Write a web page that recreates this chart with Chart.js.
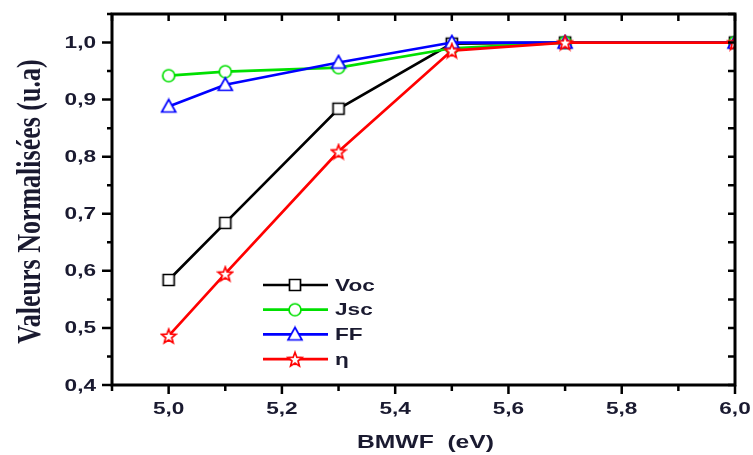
<!DOCTYPE html>
<html>
<head>
  <title>Valeurs normalisées vs BMWF</title>
  <script src="https://cdn.jsdelivr.net/npm/chart.js@4.4.1/dist/chart.umd.min.js"></script>
  <style>
    html, body {
      margin: 0;
      padding: 0;
      background: #ffffff;
    }
    .wrap {
      width: 753px;
      height: 455px;
    }
  </style>
</head>
<body>
  <div class="wrap">
    <canvas id="chart" width="753" height="455"></canvas>
  </div>

  <script>
    // work function of the back metal (eV)
    const bmwf = [5.0, 5.1, 5.3, 5.5, 5.7, 6.0];

    // normalised cell parameters
    const voc = [0.584, 0.684, 0.884, 0.998, 1.0, 1.0];
    const jsc = [0.942, 0.949, 0.956, 0.990, 1.0, 1.0];
    const ff = [0.888, 0.926, 0.965, 1.0, 1.0, 1.0];
    const eta = [0.486, 0.595, 0.809, 0.986, 1.0, 1.0];

    const seriesNames = ['Voc', 'Jsc', 'FF', 'η'];

    const xTicks = [5.0, 5.2, 5.4, 5.6, 5.8, 6.0];
    const yTicks = [0.4, 0.5, 0.6, 0.7, 0.8, 0.9, 1.0];

    const xTitle = 'BMWF  (eV)';
    const yTitle = 'Valeurs Normalisées (u.a)';

    const labelColor = '#1a1a30';
    const sans = '"Liberation Sans", Arial, sans-serif';
    const widen = 1.37;   // all lettering is drawn a bit wider than normal

    // open markers drawn once on small canvases, reused by points and legend
    function makeMarker(kind, color) {
      const size = 18;
      const c = document.createElement('canvas');
      c.width = size;
      c.height = size;
      const g = c.getContext('2d');
      g.strokeStyle = color;
      g.fillStyle = '#ffffff';
      g.lineWidth = 1.7;
      g.beginPath();
      const m = size / 2;
      if (kind === 'square') {
        g.rect(m - 5.5, m - 5.5, 11, 11);
      } else if (kind === 'circle') {
        g.arc(m, m, 6, 0, Math.PI * 2);
      } else if (kind === 'triangle') {
        g.moveTo(m, m - 7);
        g.lineTo(m + 7, m + 5.5);
        g.lineTo(m - 7, m + 5.5);
        g.closePath();
      } else {
        const ro = 7.5, ri = 3.2;
        for (let i = 0; i < 10; i++) {
          const r = i % 2 === 0 ? ro : ri;
          const a = -Math.PI / 2 + i * Math.PI / 5;
          const px = m + r * Math.cos(a);
          const py = m + 0.8 + r * Math.sin(a);
          if (i === 0) g.moveTo(px, py); else g.lineTo(px, py);
        }
        g.closePath();
      }
      g.fill();
      g.stroke();
      return c;
    }

    const colors = ['#000000', '#00e000', '#0000ff', '#ff0000'];
    const markers = [
      makeMarker('square', colors[0]),
      makeMarker('circle', colors[1]),
      makeMarker('triangle', colors[2]),
      makeMarker('star', colors[3])
    ];
    const values = [voc, jsc, ff, eta];

    const datasets = values.map((vals, i) => ({
      label: seriesNames[i],
      data: bmwf.map((x, j) => ({ x: x, y: vals[j] })),
      borderColor: colors[i],
      backgroundColor: colors[i],
      borderWidth: 2.7,
      showLine: true,
      pointStyle: markers[i],
      pointRadius: 6,
      pointHoverRadius: 6,
      order: 3 - i
    }));

    const fmt = v => v.toFixed(1).replace('.', ',');

    function wideText(ctx, text, x, y, align) {
      ctx.save();
      ctx.translate(x, y);
      ctx.scale(widen, 1);
      ctx.textAlign = align;
      ctx.fillText(text, 0, 0);
      ctx.restore();
    }

    // frame, ticks (major + minor), tick labels, axis titles and the legend
    const framePlugin = {
      id: 'frame',
      afterDatasetsDraw(chart) {
        const ctx = chart.ctx;
        const a = chart.chartArea;
        const xs = chart.scales.x;
        const ys = chart.scales.y;
        ctx.save();
        ctx.strokeStyle = '#000';
        ctx.lineWidth = 3;
        ctx.strokeRect(a.left, a.top, a.right - a.left, a.bottom - a.top);

        ctx.lineWidth = 2.5;
        ctx.beginPath();
        for (let v = 4.9; v <= 6.001; v += 0.1) {
          const px = xs.getPixelForValue(v);
          const major = xTicks.some(t => Math.abs(t - v) < 1e-6);
          ctx.moveTo(px, a.bottom);
          ctx.lineTo(px, a.bottom + (major ? 9 : 6));
          ctx.moveTo(px, a.top);
          ctx.lineTo(px, a.top + 7);
        }
        for (let v = 0.4; v <= 1.0501; v += 0.05) {
          const py = ys.getPixelForValue(v);
          const major = yTicks.some(t => Math.abs(t - v) < 1e-6);
          ctx.moveTo(a.left, py);
          ctx.lineTo(a.left - (major ? 10 : 5), py);
          ctx.moveTo(a.right, py);
          ctx.lineTo(a.right - 7, py);
        }
        ctx.stroke();

        // tick labels from the scales' own ticks
        ctx.fillStyle = labelColor;
        ctx.font = 'bold 16.5px ' + sans;
        ctx.textBaseline = 'middle';
        xs.ticks.forEach(t => {
          wideText(ctx, fmt(t.value), xs.getPixelForValue(t.value), 409, 'center');
        });
        ys.ticks.forEach(t => {
          wideText(ctx, fmt(t.value), 96, ys.getPixelForValue(t.value) + 1, 'right');
        });

        // x title
        ctx.font = 'bold 18px ' + sans;
        wideText(ctx, xTitle, (a.left + a.right) / 2 + 2, 443, 'center');

        // y title, serif
        ctx.save();
        ctx.translate(40, (a.top + a.bottom) / 2 + 2);
        ctx.rotate(-Math.PI / 2);
        ctx.scale(1, 1.3);
        ctx.font = 'bold 26px "Liberation Serif", "Times New Roman", serif';
        ctx.textAlign = 'center';
        ctx.textBaseline = 'alphabetic';
        ctx.fillText(yTitle, 0, 0);
        ctx.restore();

        // legend with line + marker
        const lx = 263, ly = 285, gap = 24.7;
        ctx.font = 'bold 16.5px ' + sans;
        ctx.textBaseline = 'middle';
        seriesNames.forEach((name, i) => {
          const y = ly + i * gap;
          ctx.strokeStyle = colors[i];
          ctx.lineWidth = 2.7;
          ctx.beginPath();
          ctx.moveTo(lx, y);
          ctx.lineTo(lx + 65, y);
          ctx.stroke();
          ctx.drawImage(markers[i], lx + 32 - 9, y - 9);
          ctx.fillStyle = labelColor;
          wideText(ctx, name, lx + 72, y + 1, 'left');
        });
        ctx.restore();
      }
    };

    new Chart(document.getElementById('chart'), {
      type: 'scatter',
      data: { datasets: datasets },
      plugins: [framePlugin],
      options: {
        responsive: false,
        animation: false,
        events: [],
        layout: { padding: { top: 14, right: 18, left: 0, bottom: 0 } },
        plugins: {
          legend: { display: false },
          tooltip: { enabled: false }
        },
        scales: {
          x: {
            type: 'linear',
            min: 4.9,
            max: 6.0,
            afterFit: s => {
              s.height = 70;
              s.paddingLeft = 0;
              s.paddingRight = 0;
            },
            afterBuildTicks: s => { s.ticks = xTicks.map(v => ({ value: v })); },
            grid: { display: false, drawTicks: false },
            border: { display: false },
            ticks: { display: false },
            title: { display: false }
          },
          y: {
            type: 'linear',
            min: 0.4,
            max: 1.05,
            afterFit: s => {
              s.width = 112;
              s.paddingTop = 0;
              s.paddingBottom = 0;
            },
            afterBuildTicks: s => { s.ticks = yTicks.map(v => ({ value: v })); },
            grid: { display: false, drawTicks: false },
            border: { display: false },
            ticks: { display: false },
            title: { display: false }
          }
        }
      }
    });
  </script>
</body>
</html>
